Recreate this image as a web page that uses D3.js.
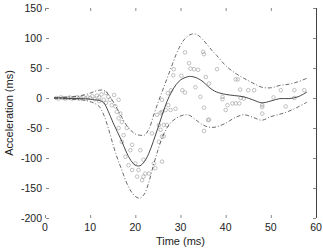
<!DOCTYPE html>
<html><head><meta charset="utf-8">
<script src="https://cdn.jsdelivr.net/npm/d3@7"></script>
<style>
html,body{margin:0;padding:0;background:#fff;}
svg{display:block;font-family:"Liberation Sans",Arial,Helvetica,sans-serif;}
</style></head>
<body><svg id="chart" width="323" height="250"></svg>
<script>
// Data
const timeGrid  = [2,4,6,8,10,11,12,13,14,15,16,17,18,19,20,21,22,23,24,25,26,27,28,29,30,31,32,33,34,35,36,37,38,40,42,44,46,48,50,52,54,56,58];
const meanAccel = [0,0,-1,-1,-2,-3,-4,-8,-22,-40,-56,-72,-90,-104,-112,-113,-106,-92,-72,-50,-27,-6,10,22,30,34,36,35,32,27,20,14,10,6,4,2,-3,-8,-5,-1,-1,2,10];
const upperAccel= [0,1,2,4,8,11,13,13,6,-5,-18,-32,-45,-54,-60,-62,-62,-52,-30,-8,12,32,52,72,88,99,105,107,104,97,88,79,71,54,42,33,25,18,17,21,23,27,33];
const lowerAccel= [0,-1,-2,-3,-6,-9,-14,-28,-50,-76,-100,-120,-140,-155,-164,-167,-160,-140,-112,-87,-65,-50,-40,-34,-30,-28,-29,-34,-40,-45,-48,-49,-48,-42,-33,-28,-32,-37,-31,-27,-22,-15,-7];

const sampleTime  = [2.5,3,3.5,4,4.5,5,5.5,6,6.5,7,7.5,8,8.5,9,9.5,10,10.5,11,11.5,12,12,12.5,13,13.5,13.5,14,14.4,14.8,15.3,15.6,15.9,16.3,16.3,16.7,17,16.3,17.4,17,18.1,19.3,18.9,17.8,18.5,20,19.3,20.7,20.4,22.2,23,21.8,24.1,24.4,21.5,21.1,21.8,25.2,23.7,25.6,25.9,26.3,25.9,25.2,27,26.3,25.9,25.6,25.9,27.3,27.8,28.9,26.7,27.2,27.9,28.4,28.5,30.2,31,35,35.2,31.9,32.2,33,33.9,38.1,36.3,35.6,42.2,42.7,33.3,30.4,31,34.4,39.3,43.2,45,46.3,39.3,43.3,44,52.2,55.2,57.4,50.6,55.2,35.2,40.4,41.5,42.2,43,48.1,48.1,53.3,40,36.3,36.1,48.1,35.2,24.8];
const sampleAccel = [0,-1,1,0,-1,0,1,-1,0,1,-1,0,2,-1,1,0,3,-2,4,1,-5,6,-3,8,-8,2,-3,-12,5,-14,-23,-3,-34,-26,-40,-50,-62,-73,-50,-78,-87,-98,-112,-109,-120,-120,-131,-126,-126,-131,-109,-117,-137,-87,-103,-73,-59,-53,-64,-45,-23,-45,-45,-64,-106,-25,-3,-12,-20,-18,-20,8,13,38,48,37,76,77,73,58,49,48,47,48,24,35,31,31,18,13,9,2,2,14,13,13,-2,0,-1,13,13,13,1,0,-16,-12,-9,-9,-9,-12,-15,-14,-20,-36,-37,-26,-55,-28];

const xTicks = [0,10,20,30,40,50,60];
const yTicks = [150,100,50,0,-50,-100,-150,-200];
const xLabel = "Time (ms)";
const yLabel = "Acceleration (ms)";

const svg = d3.select("#chart");
const x = d3.scaleLinear().domain([0,60]).range([45,316]);
const y = d3.scaleLinear().domain([-200,150]).range([218,8]);

// ticks (inward)
const tickCol = "#888";
const g = svg.append("g");
g.selectAll(".tl").data(yTicks).join("line")
  .attr("x1", x(0)+1).attr("x2", x(0)+4)
  .attr("y1", d=>y(d)+0.5).attr("y2", d=>y(d)+0.5)
  .attr("stroke", tickCol).attr("stroke-width",1);
g.selectAll(".tr").data(yTicks).join("line")
  .attr("x1", x(60)-3).attr("x2", x(60))
  .attr("y1", d=>y(d)+0.5).attr("y2", d=>y(d)+0.5)
  .attr("stroke", tickCol).attr("stroke-width",1);
g.selectAll(".tt").data(xTicks).join("line")
  .attr("x1", d=>x(d)+0.5).attr("x2", d=>x(d)+0.5)
  .attr("y1", y(150)).attr("y2", y(150)+3)
  .attr("stroke", tickCol).attr("stroke-width",1);
g.selectAll(".tb").data(xTicks).join("line")
  .attr("x1", d=>x(d)+0.5).attr("x2", d=>x(d)+0.5)
  .attr("y1", y(-200)-3).attr("y2", y(-200))
  .attr("stroke", tickCol).attr("stroke-width",1);

// right border line
svg.append("line")
  .attr("x1", x(60)+0.5).attr("x2", x(60)+0.5)
  .attr("y1", y(150)).attr("y2", y(-200))
  .attr("stroke", "#444").attr("stroke-width", 1);

// tick labels
svg.append("g").selectAll("text").data(yTicks).join("text")
  .attr("x", x(0)-3).attr("y", d=>y(d)).attr("dy","0.35em")
  .attr("text-anchor","end").attr("font-size","10.5px").attr("fill","#222")
  .text(d=>d);
svg.append("g").selectAll("text").data(xTicks).join("text")
  .attr("x", d=>x(d)).attr("y", y(-200)+13)
  .attr("text-anchor","middle").attr("font-size","10.5px").attr("fill","#222")
  .text(d=>d);

// axis titles
svg.append("text").attr("x", x(30)).attr("y", 245)
  .attr("text-anchor","middle").attr("font-size","11px").attr("fill","#222").text(xLabel);
svg.append("text").attr("transform", `translate(13,${y(-25)}) rotate(-90)`)
  .attr("text-anchor","middle").attr("font-size","11px").attr("fill","#222").text(yLabel);

// samples
svg.append("g").selectAll("circle").data(sampleTime.map((t,i)=>[t,sampleAccel[i]])).join("circle")
  .attr("cx", d=>x(d[0])).attr("cy", d=>y(d[1])).attr("r", 1.8)
  .attr("fill","none").attr("stroke","#999").attr("stroke-width",0.6);

// curves
const line = (vals)=>d3.line().curve(d3.curveCatmullRom)
  .x((d,i)=>x(timeGrid[i])).y(d=>y(d))(vals);
svg.append("path").attr("d", line(upperAccel)).attr("fill","none")
  .attr("stroke","#444").attr("stroke-width",0.8).attr("stroke-dasharray","4,2,1,2");
svg.append("path").attr("d", line(lowerAccel)).attr("fill","none")
  .attr("stroke","#444").attr("stroke-width",0.8).attr("stroke-dasharray","4,2,1,2");
svg.append("path").attr("d", line(meanAccel)).attr("fill","none")
  .attr("stroke","#333").attr("stroke-width",0.9);
</script></body></html>
